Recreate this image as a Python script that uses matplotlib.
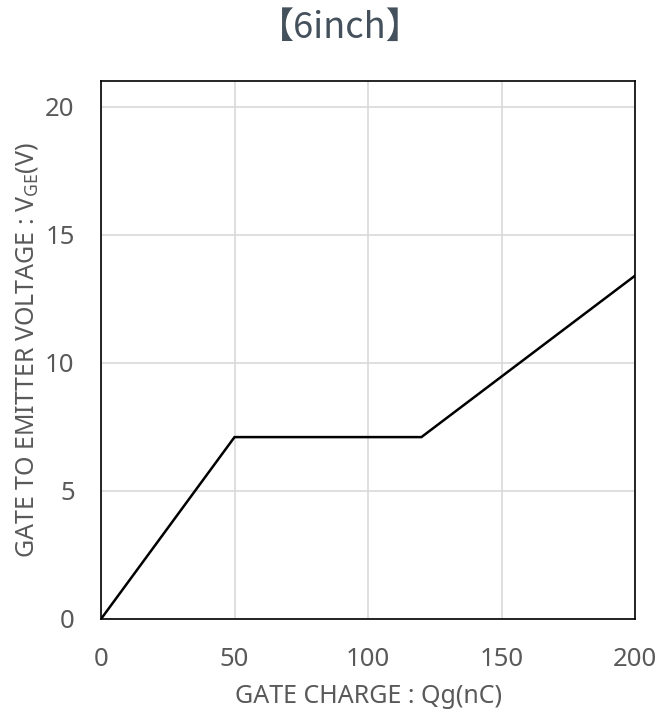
import numpy as np
import matplotlib
matplotlib.use("Agg")
import matplotlib.pyplot as plt

plt.rcParams['font.family'] = ['Noto Sans', 'Noto Sans CJK JP', 'DejaVu Sans']
plt.rcParams['mathtext.fontset'] = 'custom'
plt.rcParams['mathtext.rm'] = 'Noto Sans'

# gate charge curve (nC, V)
charge = [0, 50, 120, 200]
vge = [0, 7.1, 7.1, 13.4]

x_ticks = [0, 50, 100, 150, 200]
y_ticks = [0, 5, 10, 15, 20]

txt = '#595959'

fig = plt.figure(figsize=(6.59, 7.10), dpi=100)
ax = fig.add_axes([0.1533, 0.1282, 0.8103, 0.7577])

ax.plot(charge, vge, color='black', lw=1.8, solid_joinstyle='miter')

ax.set_xlim(0, 200)
ax.set_ylim(0, 21.0)
ax.set_xticks(x_ticks)
ax.set_yticks(y_ticks)
ax.grid(True, color='#d9d9d9', lw=1.2)
ax.set_axisbelow(True)
for s in ax.spines.values():
    s.set_color('black')
    s.set_linewidth(1.2)
ax.tick_params(length=0, labelsize=18.5, labelcolor=txt)
ax.tick_params(axis='x', pad=20)
ax.tick_params(axis='y', pad=19)

ax.set_xlabel('GATE CHARGE : Qg(nC)', fontsize=18, color=txt, labelpad=9)
ax.set_ylabel(r'GATE TO EMITTER VOLTAGE : V$_{\mathrm{GE}}$(V)', fontsize=18,
              color=txt, labelpad=4)

fig.text(0.517, 0.960, '【6inch】', ha='center', va='center', fontsize=26,
         color='#44505b', family=['Noto Sans CJK JP', 'DejaVu Sans'])

fig.savefig('out.png', dpi=100)
